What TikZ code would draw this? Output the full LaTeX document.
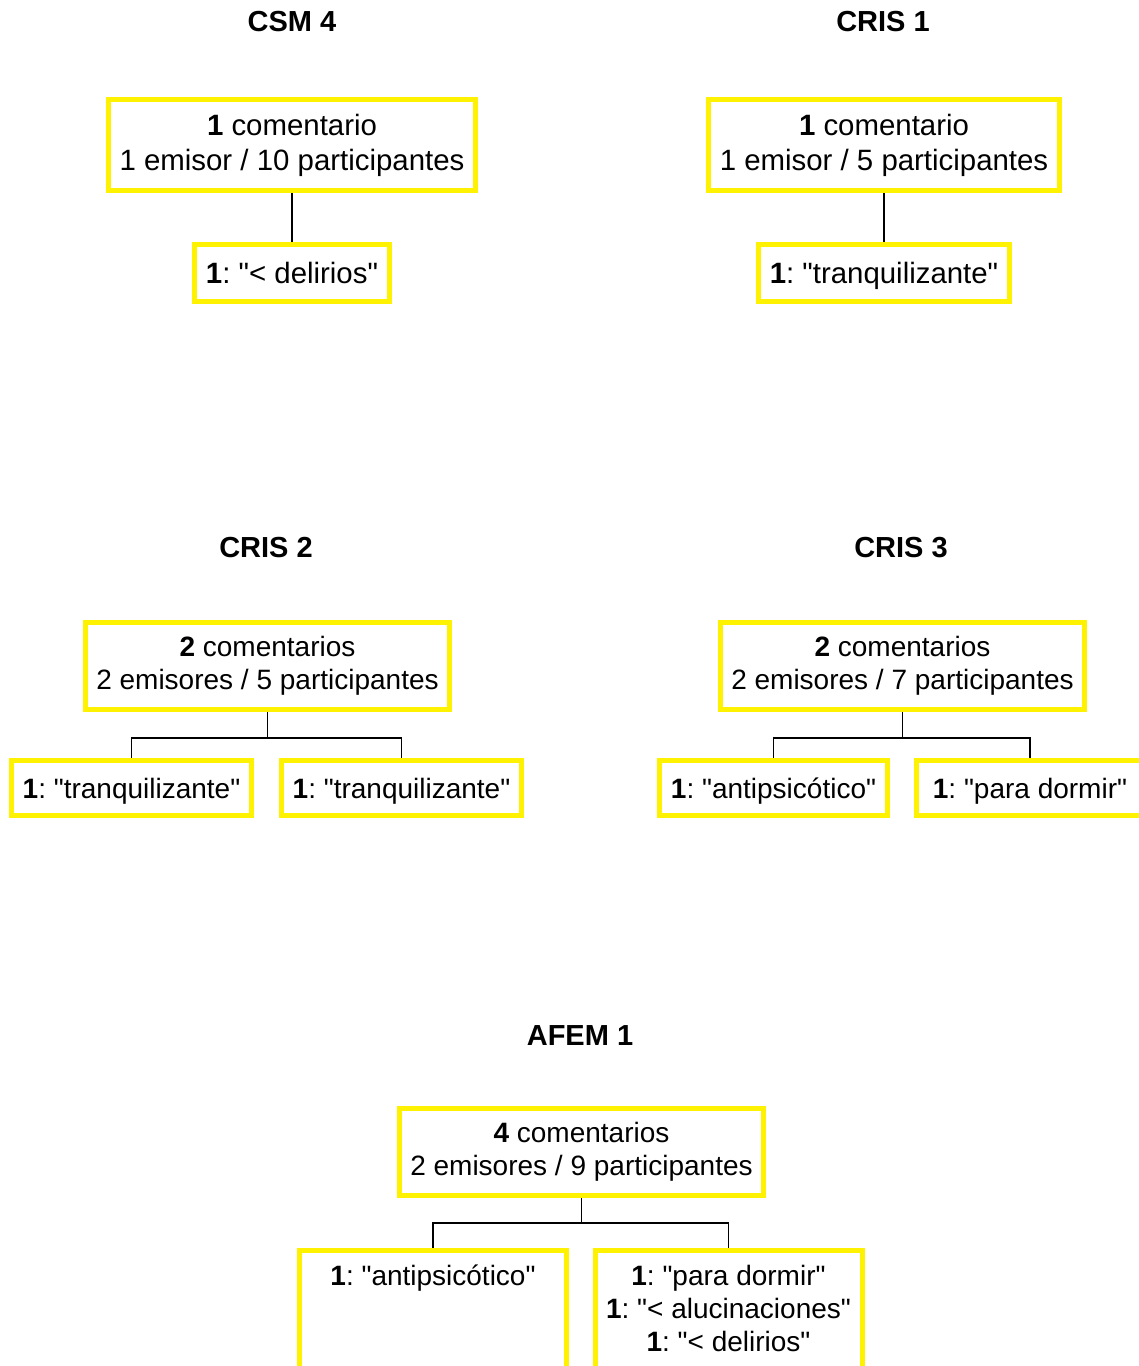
\documentclass[tikz,border=0pt]{standalone}
\usepackage{fontspec}
\setmainfont{Liberation Sans}[Ligatures=TeXOff]
\usetikzlibrary{positioning,backgrounds}
\frenchspacing

\tikzset{
  grouptitle/.style={font=\fontsize{14.5}{17}\selectfont\bfseries},
  yellowbox/.style={draw=yellow, line width=2.5pt, fill=white, align=center, inner xsep=5.5pt},
  topbox/.style={yellowbox, font=\fontsize{14.7}{17.5}\selectfont, minimum height=45.5pt},
  midbox/.style={yellowbox, font=\fontsize{14}{16.5}\selectfont, minimum height=43.5pt},
  topleaf/.style={yellowbox, font=\fontsize{14.7}{17.5}\selectfont, minimum height=28.5pt, text height=13.5pt, text depth=3pt},
  midleaf/.style={yellowbox, font=\fontsize{14}{16.5}\selectfont, minimum height=27.5pt, text height=13.5pt, text depth=3pt},
  tallleaf/.style={midleaf, minimum width=133.5pt, inner ysep=7pt, anchor=north},
  link/.style={line width=0.8pt}
}

\begin{document}
\begin{tikzpicture}[x=0.5pt, y=-0.5pt]
    \path[use as bounding box, clip] (0,0) rectangle (1139,1366);

    % CSM 4
    \node[grouptitle] (csmt) at (292,22) {CSM 4};
    \node[topbox] (csm) at (292,145) {\textbf{1} comentario\\1 emisor / 10 participantes};
    \node[topleaf] (csma) at (292,273) {\textbf{1}: "< delirios"};

    % CRIS 1
    \node[grouptitle] (cris1t) at (883,22) {CRIS 1};
    \node[topbox] (cris1) at (884,145) {\textbf{1} comentario\\1 emisor / 5 participantes};
    \node[topleaf] (cris1a) at (884,273) {\textbf{1}: "tranquilizante"};

    % CRIS 2
    \node[grouptitle] (cris2t) at (266,548) {CRIS 2};
    \node[midbox] (cris2) at (267.5,665.5) {\textbf{2} comentarios\\2 emisores / 5 participantes};
    \node[midleaf] (cris2a) at (131.5,788) {\textbf{1}: "tranquilizante"};
    \node[midleaf] (cris2b) at (401.5,788) {\textbf{1}: "tranquilizante"};

    % CRIS 3
    \node[grouptitle] (cris3t) at (901,548) {CRIS 3};
    \node[midbox] (cris3) at (902.5,665.5) {\textbf{2} comentarios\\2 emisores / 7 participantes};
    \node[midleaf, minimum width=114pt] (cris3a) at (773.5,788) {\textbf{1}: "antipsicótico"};
    \node[midleaf, minimum width=114pt] (cris3b) at (1030,788) {\textbf{1}: "para dormir"};

    % AFEM 1
    \node[grouptitle] (afemt) at (580,1036) {AFEM 1};
    \node[midbox] (afem) at (581.5,1151.5) {\textbf{4} comentarios\\2 emisores / 9 participantes};
    \node[tallleaf, text height=10.5pt, text depth=36pt] (afema) at (433,1247.5) {\textbf{1}: "antipsicótico"};
    \node[tallleaf, text height=43.5pt, text depth=3pt] (afemb) at (728.5,1247.5) {\textbf{1}: "para dormir"\\\textbf{1}: "< alucinaciones"\\\textbf{1}: "< delirios"};

    \begin{scope}[on background layer]
        \draw[link] (csm.south) -- (csma.north);
        \draw[link] (cris1.south) -- (cris1a.north);
        \draw[link] (cris2.south) -- ++(0,26.5) -| (cris2a.north);
        \draw[link] (cris2.south) -- ++(0,26.5) -| (cris2b.north);
        \draw[link] (cris3.south) -- ++(0,26.5) -| (cris3a.north);
        \draw[link] (cris3.south) -- ++(0,26.5) -| (cris3b.north);
        \draw[link] (afem.south) -- ++(0,25.5) -| (afema.north);
        \draw[link] (afem.south) -- ++(0,25.5) -| (afemb.north);
    \end{scope}
\end{tikzpicture}
\end{document}
